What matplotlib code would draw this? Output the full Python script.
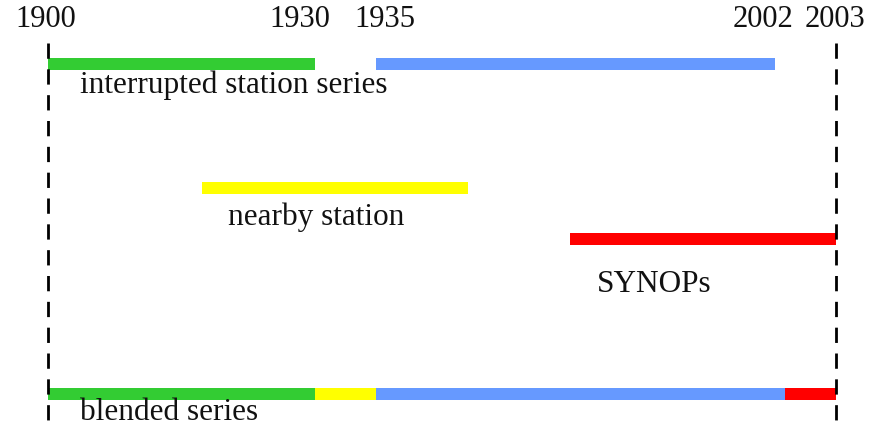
import numpy as np
import matplotlib
matplotlib.use("Agg")
import matplotlib.pyplot as plt
from matplotlib import transforms

# schematic time axis: years at the ticks and where they sit (px from 1900)
tick_years = [1900, 1930, 1935, 2002, 2003]
tick_pos = [0, 267, 328, 727, 788]
tick_labels = ["1900", "1930", "1935", "2002", "2003"]

# station series segments (start year, end year, colour)
interrupted = [(1900, 1930, "#33cc33"), (1935, 2002, "#6699ff")]
nearby = [(1917.3, 1950.4, "#ffff00")]
synops = [(1967.6, 2003, "#ff0000")]
blended = [(1900, 1930, "#33cc33"), (1930, 1935, "#ffff00"),
           (1935, 2002.16, "#6699ff"), (2002.16, 2003, "#ff0000")]

row_names = ["interrupted station series", "nearby station", "SYNOPs", "blended series"]
row_segments = [interrupted, nearby, synops, blended]

# layout (pixels)
row_y = [64, 188, 239, 394]
label_dx = [32, 26, 27, 32]
label_dy = [29, 37, 53, 26]
tick_dx = [-2, -15, 9, -12, -1]

ty = np.array(tick_years, float)
tp = np.array(tick_pos, float)
slope_lo = (tp[1] - tp[0]) / (ty[1] - ty[0])
slope_hi = (tp[-1] - tp[-2]) / (ty[-1] - ty[-2])


def fwd(x):
    x = np.asarray(x, float)
    out = np.interp(x, ty, tp)
    out = np.where(x < ty[0], tp[0] + (x - ty[0]) * slope_lo, out)
    out = np.where(x > ty[-1], tp[-1] + (x - ty[-1]) * slope_hi, out)
    return out


def inv(p):
    p = np.asarray(p, float)
    out = np.interp(p, tp, ty)
    out = np.where(p < tp[0], ty[0] + (p - tp[0]) / slope_lo, out)
    out = np.where(p > tp[-1], ty[-1] + (p - tp[-1]) / slope_hi, out)
    return out


plt.rcParams['font.family'] = ['Liberation Serif', 'DejaVu Serif']

fig = plt.figure(figsize=(8.79, 4.28), dpi=100)
ax = fig.add_axes([0, 0, 1, 1])
ax.set_xscale('function', functions=(fwd, inv))
ax.set_xlim(float(inv(-48)), float(inv(831)))
ax.set_ylim(428, 0)
ax.axis('off')

# dashed boundaries at the start and end of the record
for yr in (tick_years[0], tick_years[-1]):
    ax.plot([yr, yr], [43, 430], color='black', lw=2, dashes=(5.5, 3.8), zorder=3)

for segs, y, name, dx, dy in zip(row_segments, row_y, row_names, label_dx, label_dy):
    for start, end, col in segs:
        ax.barh(y, end - start, left=start, height=12, color=col, zorder=2)
    off = transforms.offset_copy(ax.transData, fig=fig, x=dx, y=-dy, units='dots')
    ax.text(segs[0][0], y, name, transform=off, fontsize=22.5,
            ha='left', va='baseline', color='#111111')

for yr, lab, dx in zip(tick_years, tick_labels, tick_dx):
    off = transforms.offset_copy(ax.transData, fig=fig, x=dx, y=0, units='dots')
    ax.text(yr, 27, lab, transform=off, fontsize=22, ha='center',
            va='baseline', color='#111111')

fig.savefig("out.png", dpi=100)
